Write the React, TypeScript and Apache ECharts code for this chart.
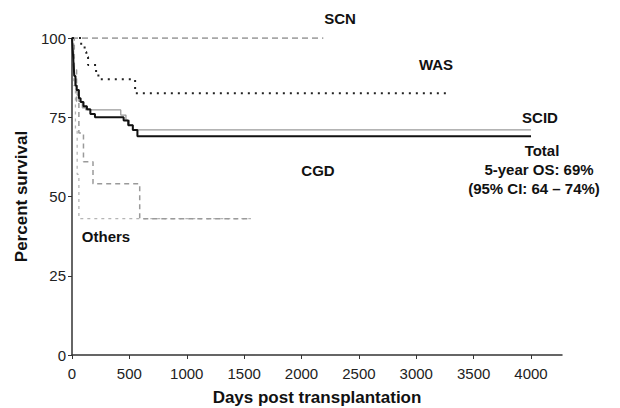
import React, { useEffect, useRef } from "react";
import * as echarts from "echarts";

const xTicks = [0, 500, 1000, 1500, 2000, 2500, 3000, 3500, 4000];
const yTicks = [0, 25, 50, 75, 100];

// [day, percent survival] — Kaplan–Meier steps
const scnData: [number, number][] = [[0, 100], [2190, 100]];
const wasData: [number, number][] = [
  [0, 100], [60, 100], [80, 97.8], [110, 95.6], [125, 94], [140, 91.5],
  [210, 89], [230, 87], [550, 82.6], [3290, 82.6],
];
const scidData: [number, number][] = [
  [0, 100], [5, 96], [10, 92], [20, 88], [30, 85], [45, 82], [60, 80],
  [90, 78], [120, 77.3], [425, 75.7], [470, 74], [500, 72.5], [530, 71], [4000, 71],
];
const totalData: [number, number][] = [
  [0, 100], [5, 97], [10, 94], [15, 91], [20, 88], [30, 85], [40, 83.6],
  [60, 81], [75, 79.8], [100, 78.5], [130, 77.5], [160, 76], [200, 75],
  [450, 74], [490, 72.5], [530, 71], [570, 69], [4000, 69],
];
const cgdData: [number, number][] = [
  [0, 100], [20, 90], [40, 80], [60, 70], [100, 61], [183, 54], [590, 43], [1550, 43],
];
const othersData: [number, number][] = [
  [0, 100], [15, 85], [30, 71], [45, 57], [60, 43], [1560, 43],
];

const labels = [
  { text: "SCN", x: 340, y: 18 },
  { text: "WAS", x: 436, y: 64 },
  { text: "SCID", x: 540, y: 117 },
  { text: "CGD", x: 318, y: 170 },
  { text: "Others", x: 106, y: 236 },
  { text: "Total", x: 542, y: 150 },
  { text: "5-year OS: 69%", x: 539, y: 169 },
  { text: "(95% CI: 64 – 74%)", x: 534, y: 188 },
];

export default function App() {
  const ref = useRef<HTMLDivElement>(null);
  useEffect(() => {
    document.body.style.margin = "0";
    if (!ref.current) return;
    const chart = echarts.init(ref.current, null, { renderer: "svg" });
    const font = "'Liberation Sans', Arial, sans-serif";
    const mk = (name: string, data: [number, number][], color: string, width: number, type: any, z = 2) => ({
      name,
      type: "line",
      step: "end",
      data,
      showSymbol: false,
      symbol: "none",
      z,
      lineStyle: { color, width, type },
    });
    chart.setOption({
      animation: false,
      backgroundColor: "#ffffff",
      textStyle: { fontFamily: font },
      grid: { left: 72, right: 58, top: 38, bottom: 53, containLabel: false, outerBoundsMode: "none" },
      xAxis: {
        type: "value",
        min: 0,
        max: 4270,
        interval: 500,
        splitLine: { show: false },
        axisLine: { lineStyle: { color: "#333", width: 1.5 } },
        axisTick: { show: true, inside: false, length: 4, lineStyle: { color: "#333" } },
        axisLabel: {
          color: "#222",
          fontSize: 15,
          fontFamily: font,
          margin: 11,
          showMaxLabel: false,
          formatter: (v: number) => (xTicks.includes(v) ? String(v) : ""),
        },
        name: "Days post transplantation",
        nameLocation: "middle",
        nameGap: 34,
        nameTextStyle: { fontSize: 17, fontWeight: "bold", color: "#111", fontFamily: font },
      },
      yAxis: {
        type: "value",
        min: 0,
        max: 100,
        interval: 25,
        splitLine: { show: false },
        axisLine: { show: true, lineStyle: { color: "#333", width: 1.5 } },
        axisTick: { show: true, inside: false, length: 4, lineStyle: { color: "#333" } },
        axisLabel: {
          color: "#222",
          fontSize: 15,
          fontFamily: font,
          margin: 6,
          formatter: (v: number) => (yTicks.includes(v) ? String(v) : ""),
        },
        name: "Percent survival",
        nameLocation: "middle",
        nameGap: 40,
        nameTextStyle: { fontSize: 17, fontWeight: "bold", color: "#111", fontFamily: font },
      },
      series: [
        mk("SCN", scnData, "#8a8a8a", 1.3, [6, 4]),
        mk("Others", othersData, "#b5b5b5", 1.3, [3, 4]),
        mk("CGD", cgdData, "#9a9a9a", 1.5, [5, 4]),
        mk("WAS", wasData, "#222", 2, [2, 5]),
        mk("SCID", scidData, "#9a9a9a", 1.3, "solid", 3),
        mk("Total", totalData, "#111", 2, "solid", 4),
      ],
      graphic: labels.map((l) => ({
        type: "text",
        x: l.x,
        y: l.y,
        style: {
          text: l.text,
          fill: "#111",
          font: `bold 15px ${font}`,
          textAlign: "center",
          textVerticalAlign: "middle",
        },
      })),
    });
    return () => chart.dispose();
  }, []);
  return <div ref={ref} style={{ width: 620, height: 408 }} />;
}
